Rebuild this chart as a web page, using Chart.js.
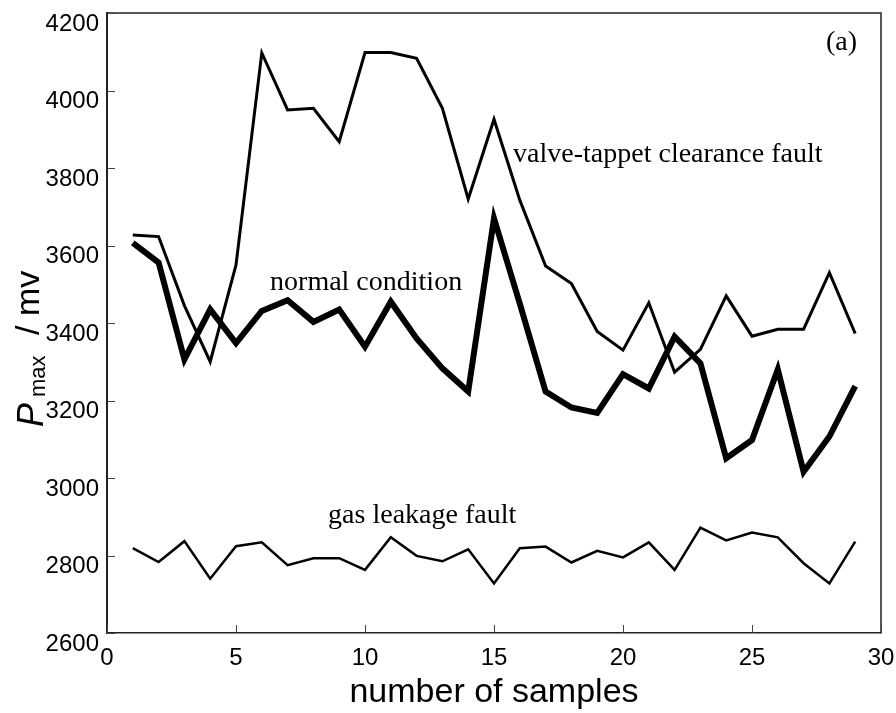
<!DOCTYPE html>
<html>
<head>
<meta charset="utf-8">
<script src="https://cdn.jsdelivr.net/npm/chart.js@4.4.0/dist/chart.umd.min.js"></script>
<style>
  body { margin: 0; background: #fff; }
</style>
</head>
<body>
<canvas id="myChart" width="896" height="713"></canvas>
<script>
// sample index along the x axis
const samples = [1, 2, 3, 4, 5, 6, 7, 8, 9, 10, 11, 12, 13, 14, 15, 16, 17, 18, 19, 20, 21, 22, 23, 24, 25, 26, 27, 28, 29];

// peak cylinder pressure Pmax (mv) for each condition
const normalCondition = [3607, 3556, 3306, 3435, 3348, 3431, 3459, 3403, 3435, 3339, 3455, 3360, 3283, 3223, 3670, 3450, 3223, 3182, 3168, 3268, 3231, 3365, 3296, 3051, 3098, 3280, 3016, 3107, 3237];
const valveTappetFault = [3627, 3623, 3445, 3300, 3550, 4097, 3950, 3954, 3868, 4098, 4098, 4083, 3954, 3720, 3926, 3717, 3547, 3502, 3378, 3330, 3452, 3273, 3332, 3470, 3366, 3384, 3384, 3530, 3373];
const gasLeakageFault = [2819, 2783, 2837, 2740, 2824, 2834, 2775, 2793, 2793, 2763, 2847, 2799, 2785, 2816, 2728, 2819, 2823, 2782, 2812, 2795, 2834, 2763, 2872, 2839, 2859, 2847, 2780, 2728, 2836];

const xTicks = [0, 5, 10, 15, 20, 25, 30];
const yTicks = [2600, 2800, 3000, 3200, 3400, 3600, 3800, 4000, 4200];

function toPoints(values) {
    return values.map((v, i) => ({ x: samples[i], y: v }));
}

// in-plot text labels, placed in data units
const curveLabels = [
    { text: 'valve-tappet clearance fault', x: 15.74, y: 3815, align: 'left' },
    { text: 'normal condition', x: 6.32, y: 3485, align: 'left' },
    { text: 'gas leakage fault', x: 8.57, y: 2884, align: 'left' },
    { text: '(a)', x: 29.07, y: 4104, align: 'right' }
];

const sansFont = '"Liberation Sans", Arial, sans-serif';
const serifFont = '"Liberation Serif", "Times New Roman", serif';

const frameAndLabels = {
    id: 'frameAndLabels',
    afterDraw(chart) {
        const ctx = chart.ctx;
        const area = chart.chartArea;
        const xs = chart.scales.x;
        const ys = chart.scales.y;
        ctx.save();

        // top and right edges of the box
        ctx.strokeStyle = '#222';
        ctx.lineWidth = 1.5;
        ctx.beginPath();
        ctx.moveTo(area.left, area.top);
        ctx.lineTo(area.right, area.top);
        ctx.lineTo(area.right, area.bottom);
        ctx.stroke();

        // inward tick marks on the left and bottom axes
        ctx.strokeStyle = '#444';
        ctx.lineWidth = 1;
        ctx.beginPath();
        xTicks.forEach(t => {
            const px = Math.round(xs.getPixelForValue(t)) + 0.5;
            ctx.moveTo(px, area.bottom);
            ctx.lineTo(px, area.bottom - 8);
        });
        yTicks.forEach(t => {
            const py = Math.round(ys.getPixelForValue(t)) + 0.5;
            ctx.moveTo(area.left, py);
            ctx.lineTo(area.left + 8, py);
        });
        ctx.stroke();

        // curve labels
        ctx.fillStyle = '#000';
        ctx.font = '28px ' + serifFont;
        ctx.textBaseline = 'alphabetic';
        curveLabels.forEach(l => {
            ctx.textAlign = l.align;
            ctx.fillText(l.text, xs.getPixelForValue(l.x), ys.getPixelForValue(l.y));
        });

        // y axis title: P_max / mv, rotated
        ctx.translate(43, 427);
        ctx.rotate(-Math.PI / 2);
        ctx.textAlign = 'left';
        ctx.font = 'italic 36px ' + sansFont;
        ctx.fillText('P', 0, 0);
        ctx.font = '22px ' + sansFont;
        ctx.fillText('max', 30, 2);
        ctx.font = '34px ' + sansFont;
        ctx.fillText('/ mv', 92, -4);

        ctx.restore();
    }
};

function myLoadFunction() {
    const ctx = document.getElementById('myChart').getContext('2d');
    const lineStyle = {
        borderColor: '#000',
        backgroundColor: '#000',
        pointRadius: 0,
        tension: 0,
        borderJoinStyle: 'miter',
        fill: false
    };
    const myChartConfig = {
        type: 'line',
        data: {
            datasets: [
                Object.assign({ label: 'valve-tappet clearance fault', data: toPoints(valveTappetFault), borderWidth: 3 }, lineStyle),
                Object.assign({ label: 'normal condition', data: toPoints(normalCondition), borderWidth: 6 }, lineStyle),
                Object.assign({ label: 'gas leakage fault', data: toPoints(gasLeakageFault), borderWidth: 2.5 }, lineStyle)
            ]
        },
        options: {
            responsive: false,
            animation: false,
            layout: { padding: { left: 0, top: 13, right: 15, bottom: 0 } },
            plugins: {
                legend: { display: false },
                tooltip: { enabled: false }
            },
            scales: {
                x: {
                    type: 'linear',
                    min: 0,
                    max: 30,
                    afterBuildTicks: s => { s.ticks = xTicks.map(v => ({ value: v })); },
                    afterFit: s => { s.height = 80; s.paddingLeft = 0; s.paddingRight = 0; },
                    grid: { display: false, drawTicks: false },
                    border: { display: true, color: '#222', width: 1.5 },
                    ticks: {
                        color: '#000',
                        padding: 11,
                        maxRotation: 0,
                        callback: v => String(v),
                        font: { family: sansFont, size: 24 }
                    },
                    title: {
                        display: true,
                        text: 'number of samples',
                        color: '#000',
                        padding: { top: 0, bottom: 0 },
                        font: { family: sansFont, size: 34 }
                    }
                },
                y: {
                    type: 'linear',
                    min: 2600,
                    max: 4200,
                    afterBuildTicks: s => { s.ticks = yTicks.map(v => ({ value: v })); },
                    afterFit: s => { s.width = 107; s.paddingTop = 0; s.paddingBottom = 0; },
                    grid: { display: false, drawTicks: false },
                    border: { display: true, color: '#222', width: 2 },
                    ticks: {
                        color: '#000',
                        padding: 8,
                        labelOffset: 11,
                        callback: v => String(v),
                        font: { family: sansFont, size: 24 }
                    }
                }
            }
        },
        plugins: [frameAndLabels]
    };
    const myChart = new Chart(ctx, myChartConfig);
}

document.addEventListener('DOMContentLoaded', myLoadFunction);
</script>
</body>
</html>
